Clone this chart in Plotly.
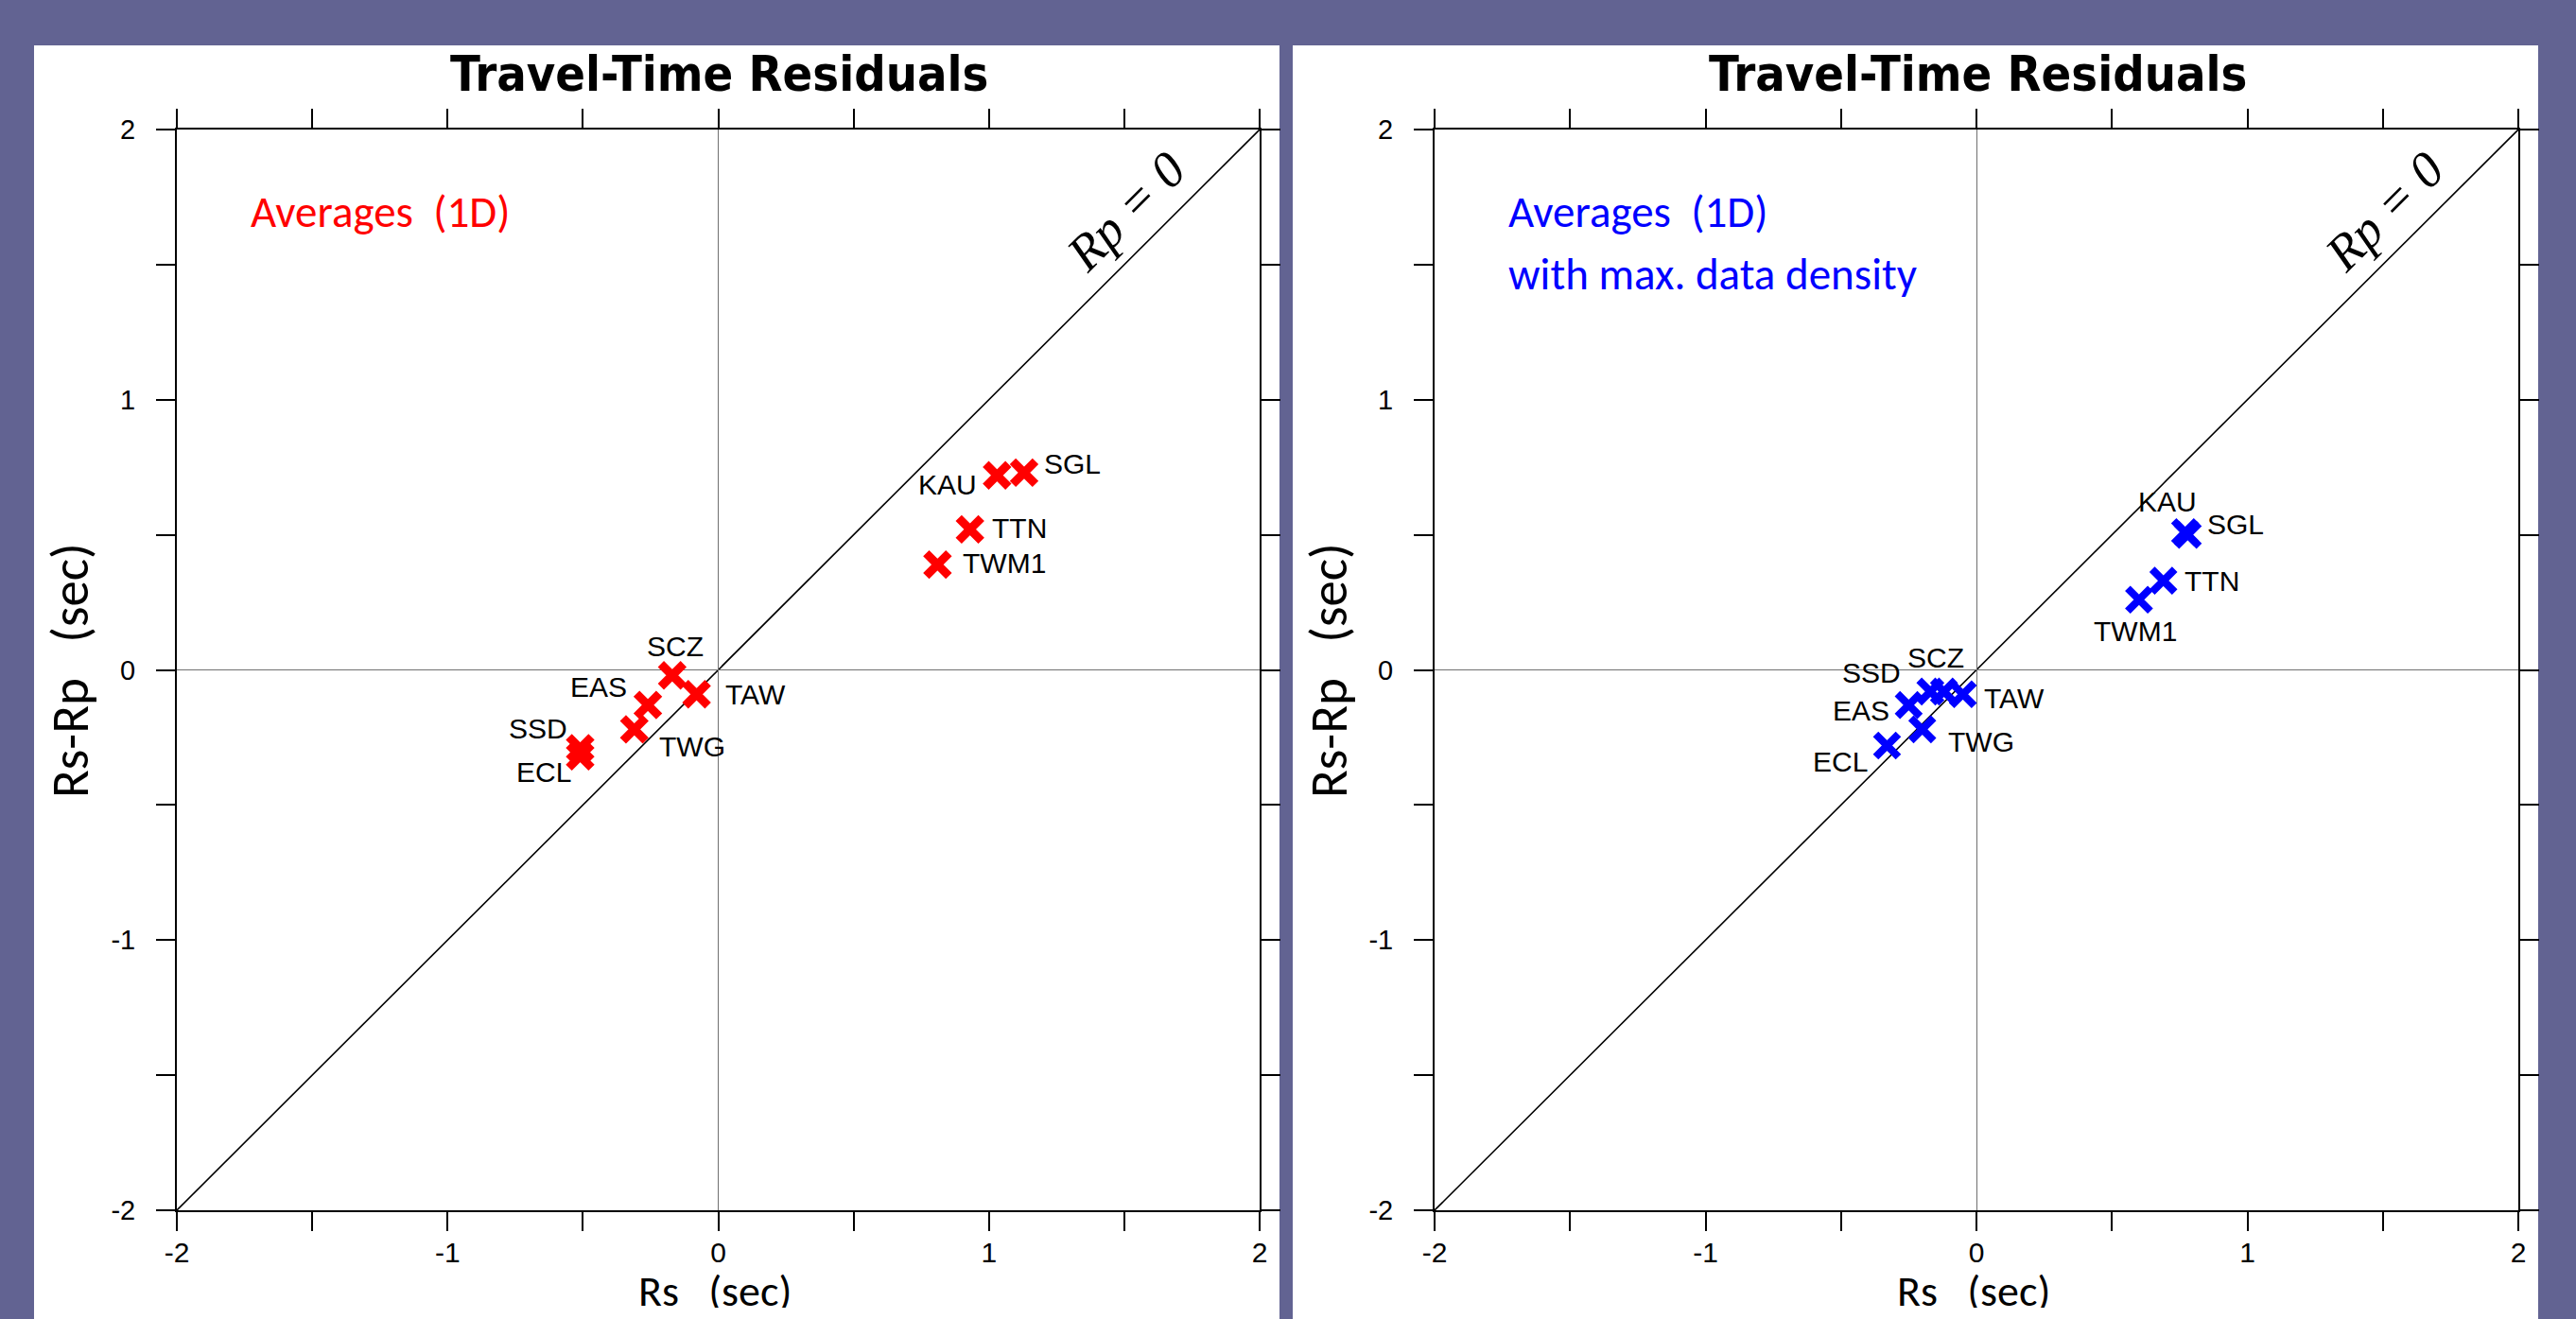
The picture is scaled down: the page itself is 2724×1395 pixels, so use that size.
import plotly.graph_objects as go

W, H = 2724, 1395

# ---------------- data ----------------
stations = ["KAU", "SGL", "TTN", "TWM1", "SCZ", "TAW", "EAS", "TWG", "SSD", "ECL"]
# Left panel: averages (1D)
rs_1d = [1.03, 1.13, 0.93, 0.81, -0.17, -0.08, -0.26, -0.31, -0.51, -0.51]
rsrp_1d = [0.72, 0.73, 0.52, 0.39, -0.02, -0.09, -0.13, -0.22, -0.29, -0.32]
# Right panel: averages (1D) with max. data density
rs_dense = [0.77, 0.78, 0.69, 0.60, -0.12, -0.05, -0.25, -0.20, -0.17, -0.33]
rsrp_dense = [0.51, 0.50, 0.33, 0.26, -0.08, -0.09, -0.13, -0.22, -0.08, -0.28]

tick_vals = [-2, -1.5, -1, -0.5, 0, 0.5, 1, 1.5, 2]
tick_text = ["-2", "", "-1", "", "0", "", "1", "", "2"]
axis_range = [-2, 2]

# label placement (anchor, xshift px, yshift px)
labels_left = {
    "KAU": ("right", -19, -10), "SGL": ("left", 19, 9), "TTN": ("left", 21, 1),
    "TWM1": ("left", 25, 2), "SCZ": ("center", 3, 31), "TAW": ("left", 28, 0),
    "EAS": ("right", -20, 19), "TWG": ("left", 24, -18), "SSD": ("right", -12, 21),
    "ECL": ("right", -8, -17),
}
labels_right = {
    "KAU": ("center", -19, 32), "SGL": ("left", 19, 11), "TTN": ("left", 20, 0),
    "TWM1": ("center", -4, -33), "SCZ": ("center", -9, 36), "TAW": ("left", 20, -4),
    "EAS": ("right", -18, -6), "TWG": ("left", 25, -13), "SSD": ("right", -29, 20),
    "ECL": ("right", -18, -17),
}

BG = "#626392"
SANS = "Liberation Sans, Arial, sans-serif"
NARROW = "Liberation Sans Narrow, DejaVu Sans Condensed, Arial Narrow, sans-serif"
HUMAN = "Carlito, Calibri, Lato, Open Sans, sans-serif"


def pxx(x):
    return x / W


def pxy(y):
    return 1 - y / H


fig = go.Figure()

fig.add_trace(go.Scatter(
    x=rs_1d, y=rsrp_1d, mode="markers", xaxis="x", yaxis="y",
    marker=dict(symbol="x-thin-open", size=24, color="#ff0000",
                line=dict(color="#ff0000", width=9)),
    hoverinfo="skip",
))
fig.add_trace(go.Scatter(
    x=rs_dense, y=rsrp_dense, mode="markers", xaxis="x2", yaxis="y2",
    marker=dict(symbol="x-thin-open", size=24, color="#0000ff",
                line=dict(color="#0000ff", width=8)),
    hoverinfo="skip",
))


def axis_common(font_size, standoff):
    return dict(
        range=axis_range, tickmode="array", tickvals=tick_vals, ticktext=tick_text,
        ticks="outside", ticklen=20, tickwidth=1.5, tickcolor="black",
        showline=True, linewidth=2, linecolor="black", mirror="allticks",
        zeroline=True, zerolinecolor="#707070", zerolinewidth=1.3,
        showgrid=False, automargin=False, fixedrange=True,
        tickfont=dict(family=SANS, size=font_size, color="black"),
        ticklabelstandoff=standoff,
    )


ydom = [pxy(1280), pxy(137)]
fig.update_layout(
    width=W, height=H, margin=dict(l=0, r=0, t=0, b=0),
    paper_bgcolor=BG, plot_bgcolor="white", showlegend=False,
    xaxis=dict(domain=[pxx(187), pxx(1332)], anchor="y", **axis_common(30, -3)),
    yaxis=dict(domain=ydom, anchor="x", **axis_common(29, 16)),
    xaxis2=dict(domain=[pxx(1517), pxx(2663)], anchor="y2", **axis_common(30, -3)),
    yaxis2=dict(domain=ydom, anchor="x2", **axis_common(29, 16)),
)

shapes = [
    dict(type="rect", xref="paper", yref="paper", x0=pxx(36), x1=pxx(1353),
         y0=0, y1=pxy(48), fillcolor="white", line=dict(width=0), layer="below"),
    dict(type="rect", xref="paper", yref="paper", x0=pxx(1367), x1=pxx(2684),
         y0=0, y1=pxy(48), fillcolor="white", line=dict(width=0), layer="below"),
    dict(type="line", xref="x", yref="y", x0=axis_range[0], y0=axis_range[0],
         x1=axis_range[1], y1=axis_range[1], line=dict(color="black", width=1.6),
         layer="below"),
    dict(type="line", xref="x2", yref="y2", x0=axis_range[0], y0=axis_range[0],
         x1=axis_range[1], y1=axis_range[1], line=dict(color="black", width=1.6),
         layer="below"),
]
fig.update_layout(shapes=shapes)

ann = []
# titles
for cx in (760, 2091):
    ann.append(dict(xref="paper", yref="paper", x=pxx(cx), y=pxy(78),
                    text="<b>Travel-Time Residuals</b>", showarrow=False,
                    xanchor="center", yanchor="middle",
                    font=dict(family=NARROW, size=52, color="black")))
# axis titles
for cx in (74, 1405):
    ann.append(dict(xref="paper", yref="paper", x=pxx(cx), y=pxy(709),
                    text="Rs-Rp&nbsp;&nbsp; (sec)", showarrow=False, textangle=-90,
                    xanchor="center", yanchor="middle",
                    font=dict(family=HUMAN, size=55, color="black")))
for cx in (756, 2087):
    ann.append(dict(xref="paper", yref="paper", x=pxx(cx), y=pxy(1365),
                    text="Rs&nbsp;&nbsp; (sec)", showarrow=False, height=36,
                    xanchor="center", yanchor="middle",
                    font=dict(family=HUMAN, size=46, color="black")))
# Rp = 0 labels
for xr, yr in (("x", "y"), ("x2", "y2")):
    ann.append(dict(xref=xr, yref=yr, x=1.505, y=1.695, text="<i>Rp = 0</i>",
                    showarrow=False, textangle=-45, xanchor="center", yanchor="middle",
                    font=dict(family="Liberation Serif, Times New Roman, serif",
                              size=54, color="black")))
# legends-as-text
ann.append(dict(xref="paper", yref="paper", x=pxx(263), y=pxy(224),
                text="Averages&nbsp; (1D)", showarrow=False, xanchor="left",
                yanchor="middle", font=dict(family=HUMAN, size=47, color="#ff0000")))
ann.append(dict(xref="paper", yref="paper", x=pxx(1593), y=pxy(224),
                text="Averages&nbsp; (1D)", showarrow=False, xanchor="left",
                yanchor="middle", font=dict(family=HUMAN, size=47, color="#0000ff")))
ann.append(dict(xref="paper", yref="paper", x=pxx(1593), y=pxy(290),
                text="with max. data density", showarrow=False, xanchor="left",
                yanchor="middle", font=dict(family=HUMAN, size=47, color="#0000ff")))

# station labels
for xr, yr, xs, ys, lab in (("x", "y", rs_1d, rsrp_1d, labels_left),
                            ("x2", "y2", rs_dense, rsrp_dense, labels_right)):
    for name, xv, yv in zip(stations, xs, ys):
        anchor, dx, dy = lab[name]
        ann.append(dict(xref=xr, yref=yr, x=xv, y=yv, text=name, showarrow=False,
                        xanchor=anchor, yanchor="middle", xshift=dx, yshift=dy,
                        font=dict(family=SANS, size=30, color="black")))

fig.update_layout(annotations=ann)

fig.write_html(
    "out.html",
    config={"displayModeBar": False},
    post_script="document.body.style.margin='0px';document.body.style.overflow='hidden';",
)
